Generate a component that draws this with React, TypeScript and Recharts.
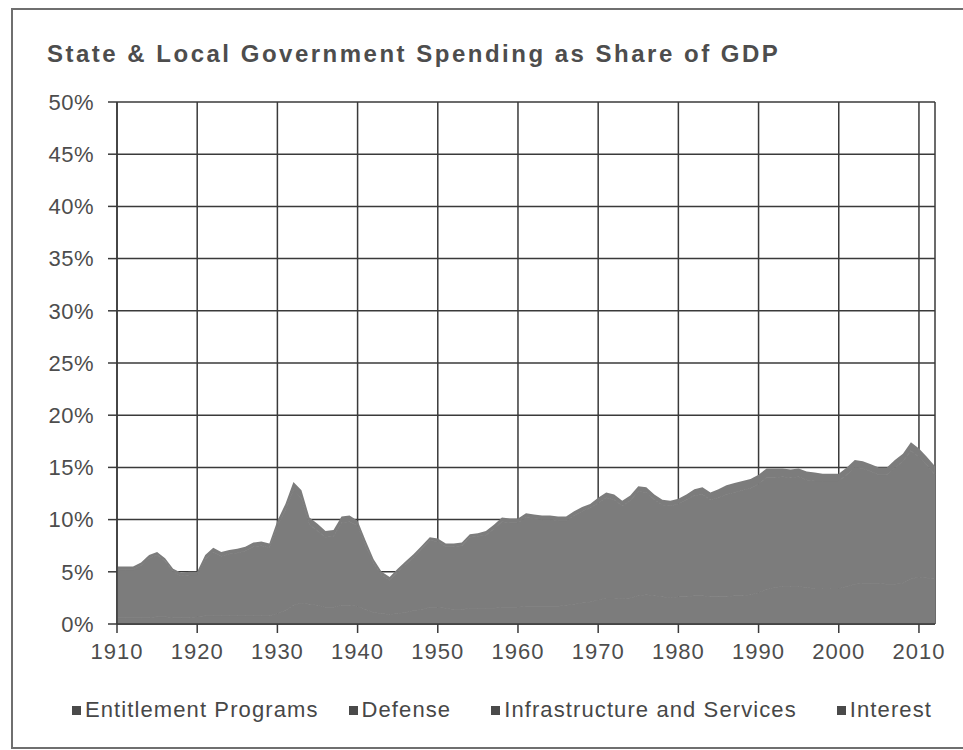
import { AreaChart, Area, XAxis, YAxis, CartesianGrid, Legend } from 'recharts';

// share of GDP, %, 1910-2012
const years = [
  1910, 1911, 1912, 1913, 1914, 1915, 1916, 1917, 1918, 1919,
  1920, 1921, 1922, 1923, 1924, 1925, 1926, 1927, 1928, 1929,
  1930, 1931, 1932, 1933, 1934, 1935, 1936, 1937, 1938, 1939,
  1940, 1941, 1942, 1943, 1944, 1945, 1946, 1947, 1948, 1949,
  1950, 1951, 1952, 1953, 1954, 1955, 1956, 1957, 1958, 1959,
  1960, 1961, 1962, 1963, 1964, 1965, 1966, 1967, 1968, 1969,
  1970, 1971, 1972, 1973, 1974, 1975, 1976, 1977, 1978, 1979,
  1980, 1981, 1982, 1983, 1984, 1985, 1986, 1987, 1988, 1989,
  1990, 1991, 1992, 1993, 1994, 1995, 1996, 1997, 1998, 1999,
  2000, 2001, 2002, 2003, 2004, 2005, 2006, 2007, 2008, 2009,
  2010, 2011, 2012,
];

const entitlement = [
  0.6, 0.6, 0.6, 0.6, 0.6, 0.7, 0.7, 0.6, 0.6, 0.6,
  0.7, 0.8, 0.8, 0.8, 0.8, 0.8, 0.8, 0.8, 0.8, 0.8,
  1.0, 1.3, 1.8, 2.0, 1.9, 1.8, 1.6, 1.6, 1.8, 1.8,
  1.7, 1.4, 1.1, 1.0, 0.9, 1.0, 1.1, 1.3, 1.4, 1.6,
  1.6, 1.5, 1.4, 1.4, 1.5, 1.5, 1.5, 1.5, 1.6, 1.6,
  1.6, 1.7, 1.7, 1.7, 1.7, 1.7, 1.8, 1.9, 2.0, 2.1,
  2.3, 2.5, 2.5, 2.4, 2.5, 2.7, 2.8, 2.7, 2.6, 2.5,
  2.6, 2.6, 2.7, 2.7, 2.6, 2.6, 2.6, 2.7, 2.7, 2.8,
  3.0, 3.3, 3.5, 3.6, 3.6, 3.6, 3.5, 3.4, 3.4, 3.4,
  3.4, 3.6, 3.8, 3.9, 3.9, 3.9, 3.8, 3.8, 3.9, 4.3,
  4.5, 4.4, 4.3,
];

const defense = [
  0, 0, 0, 0, 0, 0, 0, 0, 0, 0,
  0, 0, 0, 0, 0, 0, 0, 0, 0, 0,
  0, 0, 0, 0, 0, 0, 0, 0, 0, 0,
  0, 0, 0, 0, 0, 0, 0, 0, 0, 0,
  0, 0, 0, 0, 0, 0, 0, 0, 0, 0,
  0, 0, 0, 0, 0, 0, 0, 0, 0, 0,
  0, 0, 0, 0, 0, 0, 0, 0, 0, 0,
  0, 0, 0, 0, 0, 0, 0, 0, 0, 0,
  0, 0, 0, 0, 0, 0, 0, 0, 0, 0,
  0, 0, 0, 0, 0, 0, 0, 0, 0, 0,
  0, 0, 0,
];

const infrastructure = [
  4.6, 4.6, 4.6, 5.0, 5.7, 5.9, 5.3, 4.4, 4.0, 4.1,
  4.0, 5.4, 6.1, 5.7, 5.9, 6.0, 6.2, 6.6, 6.7, 6.5,
  8.4, 9.6, 11.0, 10.0, 7.6, 7.1, 6.7, 6.8, 7.9, 8.0,
  7.7, 6.1, 4.7, 3.7, 3.3, 4.0, 4.6, 5.1, 5.8, 6.4,
  6.3, 5.9, 6.0, 6.1, 6.8, 6.9, 7.0, 7.6, 8.2, 8.1,
  8.1, 8.5, 8.4, 8.3, 8.3, 8.2, 8.1, 8.5, 8.8, 9.0,
  9.3, 9.6, 9.4, 8.9, 9.3, 10.0, 9.8, 9.2, 8.8, 8.8,
  8.9, 9.3, 9.6, 9.7, 9.3, 9.5, 9.8, 9.9, 10.1, 10.2,
  10.4, 10.7, 10.5, 10.5, 10.4, 10.5, 10.3, 10.3, 10.3, 10.3,
  10.3, 10.7, 11.2, 11.0, 10.7, 10.4, 10.5, 11.2, 11.7, 12.3,
  11.5, 10.8, 10.0,
];

const interest = [
  0.3, 0.3, 0.3, 0.3, 0.3, 0.3, 0.3, 0.3, 0.3, 0.3,
  0.3, 0.4, 0.4, 0.4, 0.4, 0.4, 0.4, 0.4, 0.4, 0.4,
  0.5, 0.6, 0.8, 0.8, 0.7, 0.7, 0.6, 0.6, 0.6, 0.6,
  0.5, 0.5, 0.4, 0.3, 0.3, 0.3, 0.3, 0.3, 0.3, 0.3,
  0.3, 0.3, 0.3, 0.3, 0.3, 0.3, 0.4, 0.4, 0.4, 0.4,
  0.4, 0.4, 0.4, 0.4, 0.4, 0.4, 0.4, 0.4, 0.4, 0.4,
  0.5, 0.5, 0.5, 0.5, 0.5, 0.5, 0.5, 0.5, 0.5, 0.5,
  0.5, 0.5, 0.6, 0.7, 0.7, 0.8, 0.9, 0.9, 0.9, 0.9,
  0.9, 0.9, 0.9, 0.8, 0.8, 0.8, 0.8, 0.8, 0.7, 0.7,
  0.7, 0.7, 0.7, 0.7, 0.7, 0.7, 0.7, 0.7, 0.7, 0.8,
  0.8, 0.8, 0.8,
];

const seriesNames = ['Entitlement Programs', 'Defense', 'Infrastructure and Services', 'Interest'];
const xTicks = [1910, 1920, 1930, 1940, 1950, 1960, 1970, 1980, 1990, 2000, 2010];
const yTicks = [0, 5, 10, 15, 20, 25, 30, 35, 40, 45, 50];

const data = years.map((year, i) => ({
  year,
  entitlement: entitlement[i],
  defense: defense[i],
  infrastructure: infrastructure[i],
  interest: interest[i],
}));

const FONT = '"Liberation Sans", Arial, sans-serif';
const GRID = '#3a3a3a';
const TEXT = '#4d4d4d';
const FILL = '#7c7c7c';

const renderLegend = (props: any) => {
  const items = [...(props.payload || [])].sort(
    (a: any, b: any) => seriesNames.indexOf(a.value) - seriesNames.indexOf(b.value)
  );
  return (
    <div style={{ display: 'flex', paddingLeft: 72, fontFamily: FONT, fontSize: 22, color: '#474747', letterSpacing: 1.1, whiteSpace: 'nowrap' }}>
      {items.map((entry: any, i: number) => (
        <div key={entry.value} style={{ display: 'flex', alignItems: 'center', marginRight: i === 0 ? 30 : 40 }}>
          <span style={{ width: 9, height: 9, background: '#4a4a4a', marginRight: 4, display: 'inline-block' }} />
          <span>{entry.value}</span>
        </div>
      ))}
    </div>
  );
};

export default function App() {
  return (
    <div style={{ position: 'absolute', left: 0, top: 0, width: 963, height: 750, overflow: 'hidden', background: '#fff' }}>
      <div style={{ position: 'absolute', left: 11, top: 8, width: 990, height: 737, border: '2px solid #6f6f6f' }} />
      <div style={{ position: 'absolute', left: 47, top: 40, fontFamily: FONT, fontWeight: 'bold', fontSize: 24, letterSpacing: 2.5, color: TEXT, whiteSpace: 'nowrap' }}>
        State &amp; Local Government Spending as Share of GDP
      </div>
      <div style={{ position: 'absolute', left: 0, top: 0 }}>
        <AreaChart width={963} height={750} data={data} margin={{ top: 102, right: 28, bottom: 23, left: 0 }}>
          <XAxis
            dataKey="year"
            type="number"
            domain={[1910, 2012]}
            ticks={xTicks}
            height={73}
            tickSize={9}
            tickMargin={10}
            tick={{ fill: TEXT, fontSize: 22, fontFamily: FONT, letterSpacing: 1 }}
            axisLine={{ stroke: GRID, strokeWidth: 1.5 }}
            tickLine={{ stroke: GRID, strokeWidth: 1.5 }}
          />
          <YAxis
            type="number"
            domain={[0, 50]}
            ticks={yTicks}
            width={117}
            tickSize={9}
            tickMargin={14}
            tickFormatter={(v) => `${v}%`}
            tick={{ fill: TEXT, fontSize: 22, fontFamily: FONT, letterSpacing: 0.5 }}
            axisLine={{ stroke: GRID, strokeWidth: 1.5 }}
            tickLine={{ stroke: GRID, strokeWidth: 1.5 }}
          />
          <Area type="linear" dataKey="entitlement" name="Entitlement Programs" stackId="1" stroke={FILL} strokeWidth={1} fill={FILL} fillOpacity={1} isAnimationActive={false} />
          <Area type="linear" dataKey="defense" name="Defense" stackId="1" stroke="none" fill={FILL} fillOpacity={1} isAnimationActive={false} />
          <Area type="linear" dataKey="infrastructure" name="Infrastructure and Services" stackId="1" stroke={FILL} strokeWidth={1} fill={FILL} fillOpacity={1} isAnimationActive={false} />
          <Area type="linear" dataKey="interest" name="Interest" stackId="1" stroke="none" fill={FILL} fillOpacity={1} isAnimationActive={false} />
          <CartesianGrid stroke={GRID} strokeWidth={1.5} />
          <Legend verticalAlign="bottom" height={30} content={renderLegend} />
        </AreaChart>
      </div>
    </div>
  );
}
